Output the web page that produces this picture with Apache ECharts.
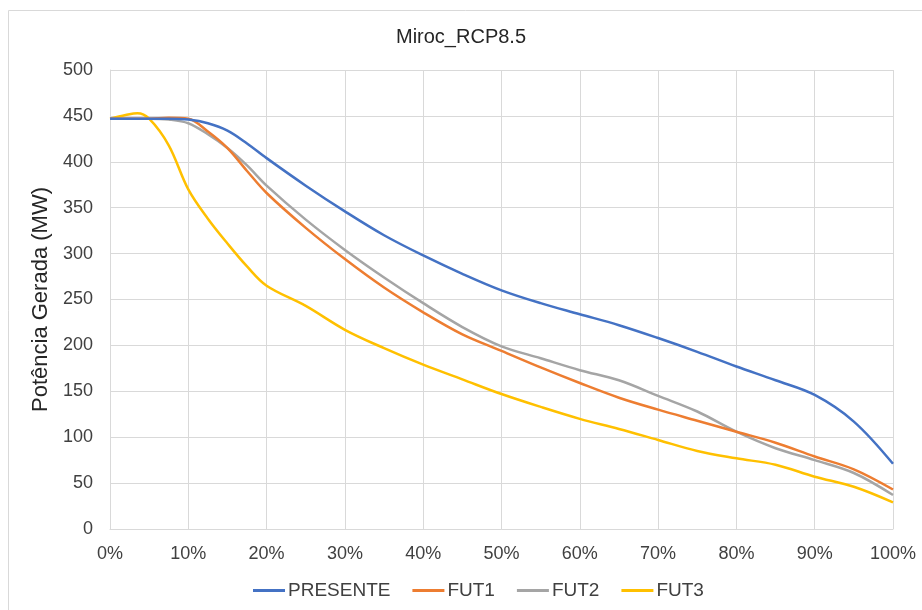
<!DOCTYPE html>
<html>
<head>
<meta charset="utf-8">
<script src="https://cdn.jsdelivr.net/npm/echarts@6/dist/echarts.min.js"></script>
<style>html,body{margin:0;padding:0;background:#fff;}#c{width:922px;height:610px;}</style>
</head>
<body>
<div id="c"></div>
<script>
const pct = [0,2.5,5,7.5,10,12.5,15,17.5,20,25,30,35,40,45,50,55,60,65,70,75,80,85,90,95,100];
const presente = [447,447,447,447,446,442,434,420,404,374,346,320,298,278,260,246,234,222,208,193,177,162,146,117,71];
const fut1 = [447,447,447,448,447,433,415,390,366,328,294,263,236,212,194,176,159,143,130,118,106,94,79,65,43];
const fut2 = [447,447,447,446,442,430,415,396,374,337,304,274,246,220,199,186,173,162,145,128,106,88,75,61,37];
const pct3 = [0,2,3.5,5,7.5,10,12.5,15,17.5,20,25,30,35,40,45,50,55,60,65,70,75,80,85,90,95,100];
const fut3 = [447,451,453,447,418,370,338,311,286,265,243,217,197,179,163,147,133,120,109,97,85,77,70,57,46,29];
const seriesNames = ['PRESENTE','FUT1','FUT2','FUT3'];
const colors = ['#4472C4','#ED7D31','#A5A5A5','#FFC000'];
const yTicks = {min:0,max:500,interval:50};
const xTicks = {min:0,max:100,interval:10};

function pairs(xs, ys){ return xs.map((x,i)=>[x,ys[i]]); }
const datasets = [pairs(pct,presente), pairs(pct,fut1), pairs(pct,fut2), pairs(pct3,fut3)];

const chart = echarts.init(document.getElementById('c'));
const font = 'Liberation Sans, Arial, sans-serif';
chart.setOption({
  animation:false,
  textStyle:{fontFamily:font},
  title:{text:'Miroc_RCP8.5', left:'center', top:22, textStyle:{fontSize:20, fontWeight:'normal', color:'#262626', fontFamily:font}},
  graphic:[{type:'rect', shape:{x:8.5,y:10.5,width:1000,height:1000}, style:{fill:'none', stroke:'#d9d9d9', lineWidth:1}, silent:true, z:-10}],
  legend:{bottom:5, left:248, itemWidth:32, itemHeight:3, itemGap:22, icon:'rect',
    textStyle:{fontSize:19, color:'#404040', fontFamily:font, padding:[0,0,0,-2]},
    data:seriesNames},
  grid:{left:110, right:29, top:70, bottom:81},
  xAxis:{type:'value', min:xTicks.min, max:xTicks.max, interval:xTicks.interval,
    axisLabel:{formatter:'{value}%', fontSize:18, color:'#404040', margin:16},
    axisLine:{show:true, lineStyle:{color:'#d9d9d9'}}, axisTick:{show:false},
    splitLine:{show:true, lineStyle:{color:'#d9d9d9'}}},
  yAxis:{type:'value', min:yTicks.min, max:yTicks.max, interval:yTicks.interval,
    name:'Potência Gerada (MW)', nameLocation:'middle', nameGap:52, nameRotate:90,
    nameTextStyle:{fontSize:22, color:'#262626', fontFamily:font},
    axisLabel:{fontSize:18, color:'#404040', margin:17},
    axisLine:{show:true, lineStyle:{color:'#d9d9d9'}}, axisTick:{show:false},
    splitLine:{show:true, lineStyle:{color:'#d9d9d9'}}},
  series: seriesNames.map((n,i)=>({name:n, type:'line', data:datasets[i], smooth:0.35, symbol:'none',
    itemStyle:{color:colors[i]}, lineStyle:{color:colors[i], width:2.5}, z: 10-i}))
});
</script>
</body>
</html>
